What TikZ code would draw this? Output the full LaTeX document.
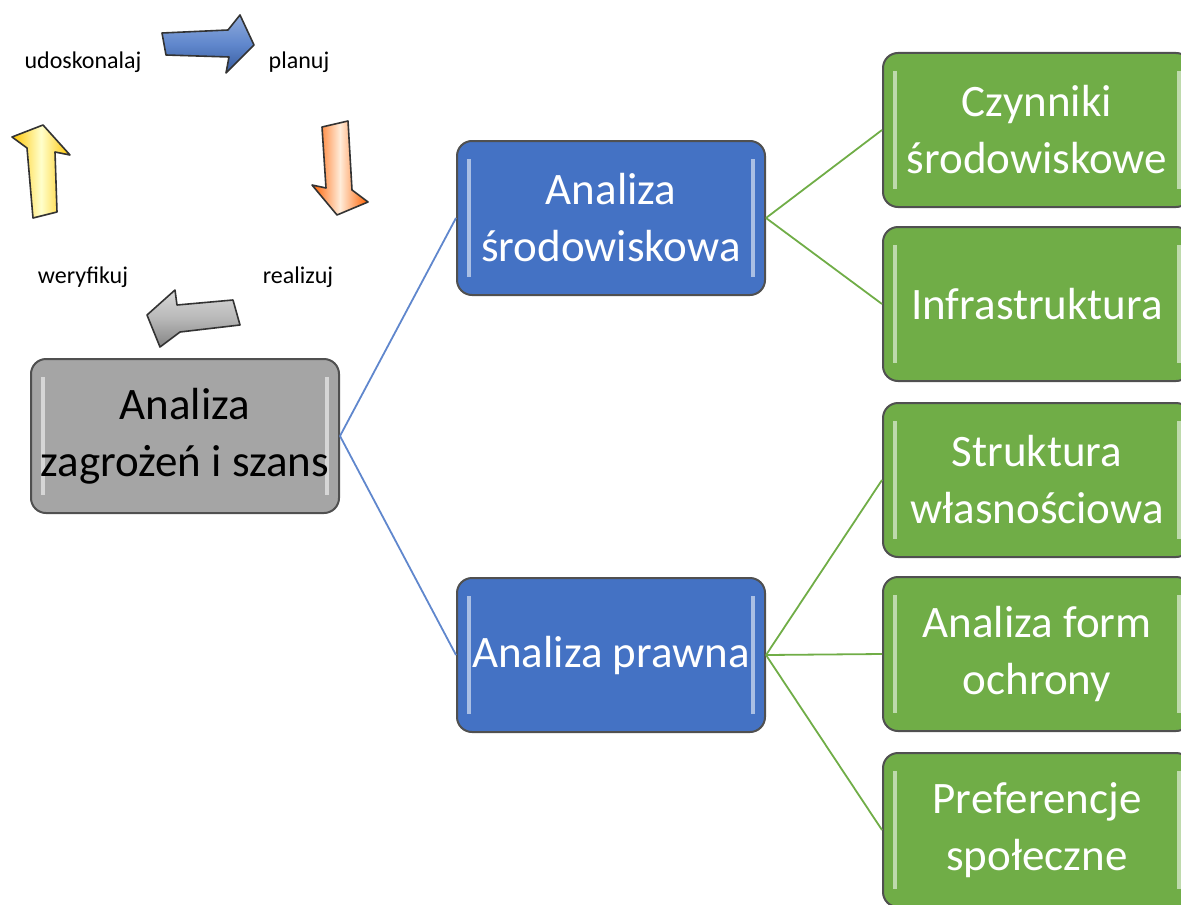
\documentclass[tikz,border=0pt]{standalone}
\usepackage{fontspec}
\setmainfont{Carlito}
\usepackage{tikz}
\usetikzlibrary{calc}

\definecolor{boxgray}{HTML}{A5A5A5}
\definecolor{boxblue}{HTML}{4472C4}
\definecolor{boxgreen}{HTML}{70AD47}
\definecolor{edgedark}{HTML}{505050}

\tikzset{
  card/.style={draw=edgedark, line width=1pt, rounded corners=7.5pt, minimum width=154pt, minimum height=77pt, inner sep=1pt, align=center, font=\fontsize{22.5}{28.5}\selectfont,
    path picture={
      \draw[white, opacity=0.55, line width=2.2pt] ($(path picture bounding box.north west)+(6pt,-9pt)$) -- ($(path picture bounding box.south west)+(6pt,9pt)$);
      \draw[white, opacity=0.55, line width=2.2pt] ($(path picture bounding box.north east)+(-6pt,-9pt)$) -- ($(path picture bounding box.south east)+(-6pt,9pt)$);
    }},
  graycard/.style={card, fill=boxgray, text=black},
  bluecard/.style={card, fill=boxblue, text=white},
  greencard/.style={card, fill=boxgreen, text=white},
  bluelink/.style={draw=boxblue!85!white, line width=0.9pt},
  greenlink/.style={draw=boxgreen, line width=0.9pt},
  steplabel/.style={font=\fontsize{12}{14}\selectfont, inner sep=0pt},
  cyclearrow/.style={draw=black!80, line width=0.8pt, line join=round}
}

\begin{document}
\begin{tikzpicture}[x=0.5pt,y=-0.5pt]
\useasboundingbox (0,0) rectangle (1181,904);
\clip (0,0) rectangle (1181,904);
\draw[cyclearrow, top color=boxblue!60!white, bottom color=boxblue!80!black, middle color=boxblue!85!white] (162,33) -- (228,30) -- (240,15) -- (254,45) -- (226,73) -- (229,57) -- (166,55) -- cycle;
\draw[cyclearrow, left color=orange!75!red, right color=orange!75!red, middle color=orange!15!white] (322,127) -- (348,121) -- (352,190) -- (368,202) -- (337,215) -- (312,185) -- (326,188) -- cycle;
\draw[cyclearrow, top color=black!15, bottom color=black!48, middle color=black!28] (147,315) -- (175,290) -- (177,305) -- (233,300) -- (240,325) -- (180,332) -- (160,347) -- cycle;
\draw[cyclearrow, left color=yellow!55!orange, right color=yellow!55!orange, middle color=yellow!20!white] (43,125) -- (70,155) -- (55,152) -- (57,212) -- (33,218) -- (27,148) -- (12,137) -- cycle;
\node[steplabel] (udoskonalaj) at (83,62) {udoskonalaj};
\node[steplabel] (planuj) at (299,62) {planuj};
\node[steplabel] (weryfikuj) at (83,277) {weryfikuj};
\node[steplabel] (realizuj) at (298,277) {realizuj};
\node[graycard] (zagrozenia) at (185,436) {Analiza\\zagrożeń i szans};
\node[bluecard] (srodowiskowa) at (611,218) {Analiza\\środowiskowa};
\node[bluecard] (prawna) at (611,655) {Analiza prawna};
\node[greencard] (czynniki) at (1037,130) {Czynniki\\środowiskowe};
\node[greencard] (infrastruktura) at (1037,304) {Infrastruktura};
\node[greencard] (struktura) at (1037,480) {Struktura\\własnościowa};
\node[greencard] (formy) at (1037,654) {Analiza form\\ochrony};
\node[greencard] (preferencje) at (1037,830) {Preferencje\\społeczne};
\draw[bluelink] (zagrozenia.east) -- (srodowiskowa.west);
\draw[bluelink] (zagrozenia.east) -- (prawna.west);
\draw[greenlink] (srodowiskowa.east) -- (czynniki.west);
\draw[greenlink] (srodowiskowa.east) -- (infrastruktura.west);
\draw[greenlink] (prawna.east) -- (struktura.west);
\draw[greenlink] (prawna.east) -- (formy.west);
\draw[greenlink] (prawna.east) -- (preferencje.west);
\end{tikzpicture}
\end{document}
